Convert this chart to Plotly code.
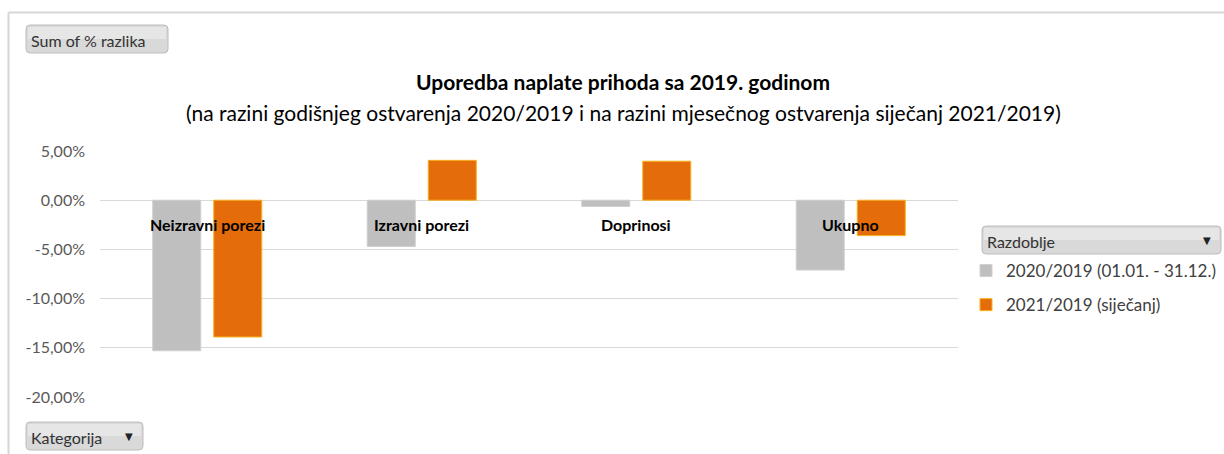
import plotly.graph_objects as go

categories = ["Neizravni porezi", "Izravni porezi", "Doprinosi", "Ukupno"]
series_names = ["2020/2019 (01.01. - 31.12.)", "2021/2019 (siječanj)"]
vals_2020 = [-0.153, -0.047, -0.0064, -0.071]
vals_2021 = [-0.139, 0.0405, 0.0396, -0.036]
tick_vals = [0.05, 0.0, -0.05, -0.10, -0.15, -0.20]
tick_text = ["5,00%", "0,00%", "-5,00%", "-10,00%", "-15,00%", "-20,00%"]
title_main = "Uporedba naplate prihoda sa 2019. godinom"
title_sub = "(na razini godišnjeg ostvarenja 2020/2019 i na razini mjesečnog ostvarenja siječanj 2021/2019)"

W, H = 1224, 454
ML, MR, MT, MB = 100, 266, 151, 57
PW, PH = W - ML - MR, H - MT - MB
FONT = "Lato"


def px(x):
    return (x - ML) / PW


def py(y):
    return 1 - (y - MT) / PH


fig = go.Figure()
fig.add_trace(go.Bar(
    x=categories, y=vals_2020, name=series_names[0], legendgroup="a",
    marker=dict(color="#BFBFBF", line=dict(color="#D0D0D0", width=1)),
))
fig.add_trace(go.Bar(
    x=categories, y=vals_2021, name=series_names[1], legendgroup="b",
    marker=dict(color="#E46C0A", line=dict(color="#F5B21C", width=1)),
))

shapes = []
annotations = []

# outer frame lines
shapes.append(dict(type="line", xref="paper", yref="paper", x0=px(8.5), x1=px(W + 5),
                   y0=py(12.5), y1=py(12.5), line=dict(color="#D6D6D6", width=2)))
shapes.append(dict(type="line", xref="paper", yref="paper", x0=px(8.5), x1=px(8.5),
                   y0=py(12.5), y1=py(H + 5), line=dict(color="#D6D6D6", width=2)))


def button(x0, y0, x1, y1, text, arrow):
    r = 4
    path = (f"M{px(x0 + r)},{py(y0)} L{px(x1 - r)},{py(y0)} Q{px(x1)},{py(y0)} {px(x1)},{py(y0 + r)} "
            f"L{px(x1)},{py(y1 - r)} Q{px(x1)},{py(y1)} {px(x1 - r)},{py(y1)} "
            f"L{px(x0 + r)},{py(y1)} Q{px(x0)},{py(y1)} {px(x0)},{py(y1 - r)} "
            f"L{px(x0)},{py(y0 + r)} Q{px(x0)},{py(y0)} {px(x0 + r)},{py(y0)} Z")
    shapes.append(dict(type="path", xref="paper", yref="paper", path=path,
                       fillcolor="#D9D9D9", line=dict(color="#BDBDBD", width=1), layer="above"))
    shapes.append(dict(type="rect", xref="paper", yref="paper", x0=px(x0 + 2), x1=px(x1 - 2),
                       y0=py(y0 + 2), y1=py((y0 + y1) / 2), fillcolor="#E6E6E6",
                       line=dict(width=0), layer="above"))
    annotations.append(dict(xref="paper", yref="paper", x=px(x0 + 3), y=py((y0 + y1) / 2 + 1),
                            xanchor="left", yanchor="middle", text=text, showarrow=False,
                            font=dict(family=FONT, size=16, color="#333333")))
    if arrow:
        annotations.append(dict(xref="paper", yref="paper", x=px(x1 - 14), y=py((y0 + y1) / 2),
                                xanchor="center", yanchor="middle", text="▼", showarrow=False,
                                font=dict(family="DejaVu Sans", size=10, color="#222222")))


button(26, 25, 168, 53, "Sum of % razlika", False)
button(26, 422, 143, 450, "Kategorija", True)
button(982, 226, 1221, 254, "Razdoblje", True)

# category labels inside plot
for c in categories:
    annotations.append(dict(x=c, y=-0.025, xref="x", yref="y", text=f"<b>{c}</b>",
                            showarrow=False, xanchor="center", yanchor="middle",
                            font=dict(family=FONT, size=16, color="#000000")))

# subtitle
annotations.append(dict(xref="paper", yref="paper", x=px(623), y=py(112), xanchor="center",
                        yanchor="middle", text=title_sub, showarrow=False,
                        font=dict(family=FONT, size=21, color="#000000")))

fig.update_layout(
    width=W, height=H,
    margin=dict(l=ML, r=MR, t=MT, b=MB, autoexpand=False),
    paper_bgcolor="white", plot_bgcolor="white",
    title=dict(text=f"<b>{title_main}</b>", x=623 / W, xanchor="center", y=1 - 83 / H,
               yanchor="middle", font=dict(family=FONT, size=21, color="#000000")),
    barmode="group", bargap=0.431, bargroupgap=0.213,
    xaxis=dict(showticklabels=False, showgrid=False, zeroline=False, showline=False),
    yaxis=dict(range=[-0.20, 0.05], tickvals=tick_vals, ticktext=tick_text,
               showgrid=True, gridcolor="#D9D9D9", gridwidth=1, zeroline=True,
               zerolinecolor="#D9D9D9", zerolinewidth=1, showline=False,
               ticklabelstandoff=14,
               tickfont=dict(family=FONT, size=16, color="#595959")),
    showlegend=True,
    legend=dict(x=px(966), y=py(253), xanchor="left", yanchor="top",
                tracegroupgap=9, itemwidth=30, bgcolor="rgba(0,0,0,0)",
                font=dict(family=FONT, size=17, color="#404040")),
    shapes=shapes, annotations=annotations,
    font=dict(family=FONT),
)

fig.write_html("out.html", config={"displayModeBar": False},
               post_script="document.body.style.margin='0';document.body.style.overflow='hidden';")
